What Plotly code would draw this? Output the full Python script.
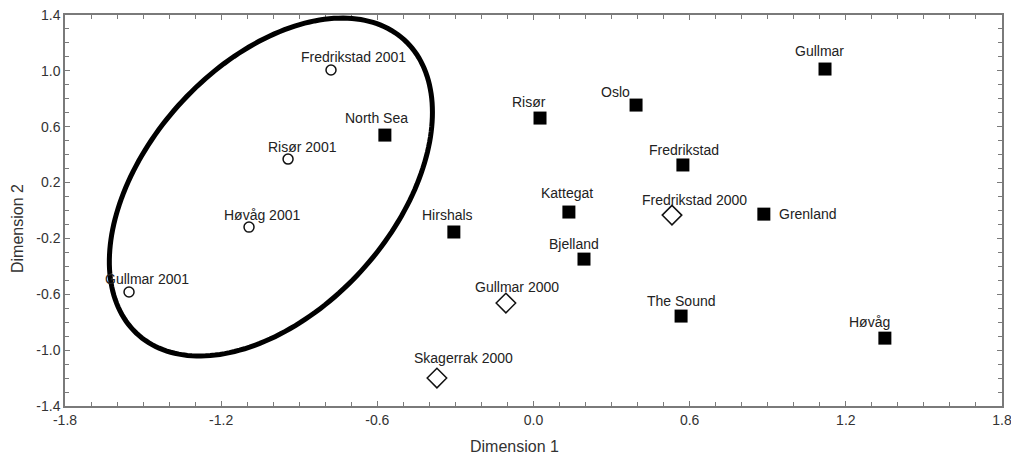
import numpy as np
import plotly.graph_objects as go

# ---- data ----
site_names = ["North Sea", "Hirshals", "Risør", "Oslo", "Fredrikstad", "Kattegat",
              "Grenland", "Bjelland", "The Sound", "Gullmar", "Høvåg"]
site_x = [-0.571, -0.306, 0.025, 0.394, 0.574, 0.136, 0.885, 0.194, 0.567, 1.12, 1.35]
site_y = [0.54, -0.154, 0.662, 0.755, 0.326, -0.011, -0.026, -0.348, -0.756, 1.013, -0.914]

y2001_names = ["Fredrikstad 2001", "Risør 2001", "Høvåg 2001", "Gullmar 2001"]
y2001_x = [-0.778, -0.943, -1.093, -1.554]
y2001_y = [1.006, 0.368, -0.119, -0.584]

y2000_names = ["Fredrikstad 2000", "Gullmar 2000", "Skagerrak 2000"]
y2000_x = [0.532, -0.106, -0.371]
y2000_y = [-0.033, -0.663, -1.2]

x_ticks = [-1.8, -1.2, -0.6, 0.0, 0.6, 1.2, 1.8]
y_ticks = [-1.4, -1.0, -0.6, -0.2, 0.2, 0.6, 1.0, 1.4]

# ---- styling: label offsets in pixels (dx, dy, anchor) ----
label_style = {
    "North Sea": (-8, 17, "center"), "Hirshals": (-6, 17, "center"),
    "Risør": (-11, 16, "center"), "Oslo": (-21, 13, "center"),
    "Fredrikstad": (1, 15, "center"), "Kattegat": (-2, 19, "center"),
    "Grenland": (13, 0, "left"), "Bjelland": (-10, 15, "center"),
    "The Sound": (0, 15, "center"), "Gullmar": (-6, 18, "center"),
    "Høvåg": (-15, 16, "center"),
    "Fredrikstad 2001": (22, 13, "center"), "Risør 2001": (14, 12, "center"),
    "Høvåg 2001": (13, 12, "center"), "Gullmar 2001": (18, 13, "center"),
    "Fredrikstad 2000": (23, 15, "center"), "Gullmar 2000": (11, 16, "center"),
    "Skagerrak 2000": (27, 20, "center"),
}

FONT = "Arial, Liberation Sans, sans-serif"
W, H = 1011, 455
ML, MR, MT, MB = 65, 9, 15, 49
XR = [-1.8, 1.8]
YR = [-1.4, 1.4]
PX_X = (W - ML - MR) / (XR[1] - XR[0])
PX_Y = (H - MT - MB) / (YR[1] - YR[0])

fig = go.Figure()
fig.add_trace(go.Scatter(x=site_x, y=site_y, mode="markers", name="sites",
                         marker=dict(symbol="square", size=13, color="black",
                                     line=dict(width=0))))
fig.add_trace(go.Scatter(x=y2001_x, y=y2001_y, mode="markers", name="2001",
                         marker=dict(symbol="circle-open", size=10, color="#111",
                                     line=dict(width=1.5))))
fig.add_trace(go.Scatter(x=y2000_x, y=y2000_y, mode="markers", name="2000",
                         marker=dict(symbol="diamond-open", size=15, color="#111",
                                     line=dict(width=1.5))))

for names, xs, ys in [(site_names, site_x, site_y), (y2001_names, y2001_x, y2001_y),
                      (y2000_names, y2000_x, y2000_y)]:
    for n, x, y in zip(names, xs, ys):
        dx, dy, anc = label_style[n]
        fig.add_annotation(x=x, y=y, text=n, showarrow=False, xanchor=anc,
                           yanchor="middle", xshift=dx, yshift=dy,
                           font=dict(family=FONT, size=14, color="#222"))

# ellipse (drawn in pixel units, converted to data)
ell_cx, ell_cy = -1.009, 0.168
ell_a, ell_b, ell_theta = 198.6, 123.3, np.deg2rad(47.9)
t = np.linspace(0, 2 * np.pi, 200)
ex = ell_cx + (ell_a * np.cos(ell_theta) * np.cos(t) - ell_b * np.sin(ell_theta) * np.sin(t)) / PX_X
ey = ell_cy + (ell_a * np.sin(ell_theta) * np.cos(t) + ell_b * np.cos(ell_theta) * np.sin(t)) / PX_Y
path = "M " + " L ".join(f"{a:.4f},{b:.4f}" for a, b in zip(ex, ey)) + " Z"
fig.add_shape(type="path", path=path, xref="x", yref="y",
              line=dict(color="black", width=5))

axis_common = dict(showgrid=False, zeroline=False, showline=True, linecolor="#7a7a7a",
                   linewidth=1.5, mirror="allticks", ticks="inside", ticklen=5,
                   tickwidth=1, tickcolor="#7a7a7a", automargin=False,
                   ticklabeloverflow="allow",
                   tickfont=dict(family=FONT, size=14, color="#333"),
                   minor=dict(ticks="inside", dtick=0.1, ticklen=4, tickcolor="#7a7a7a",
                              tickwidth=1))

fig.update_xaxes(range=XR, tickvals=x_ticks, ticktext=[f"{v:.1f}" for v in x_ticks],
                 tick0=-1.8, **axis_common)
fig.update_yaxes(range=YR, tickvals=y_ticks, ticktext=[f"{v:.1f}" for v in y_ticks],
                 tick0=-1.4, **axis_common)

fig.add_annotation(text="Dimension 1", xref="paper", yref="paper",
                   x=(514 - ML) / (W - ML - MR), y=-(447 - (H - MB)) / (H - MT - MB),
                   showarrow=False, xanchor="center", yanchor="middle",
                   font=dict(family=FONT, size=16, color="#333"))
fig.add_annotation(text="Dimension 2", xref="paper", yref="paper",
                   x=(17 - ML) / (W - ML - MR), y=((H - MB) - 229) / (H - MT - MB),
                   showarrow=False, xanchor="center", yanchor="middle", textangle=-90,
                   font=dict(family=FONT, size=16, color="#333"))

fig.update_layout(width=W, height=H, margin=dict(l=ML, r=MR, t=MT, b=MB),
                  plot_bgcolor="white", paper_bgcolor="white", showlegend=False)

fig.write_html("out.html", config={"displayModeBar": False},
               post_script="document.body.style.margin='0';"
                           "document.body.style.overflow='hidden';")
